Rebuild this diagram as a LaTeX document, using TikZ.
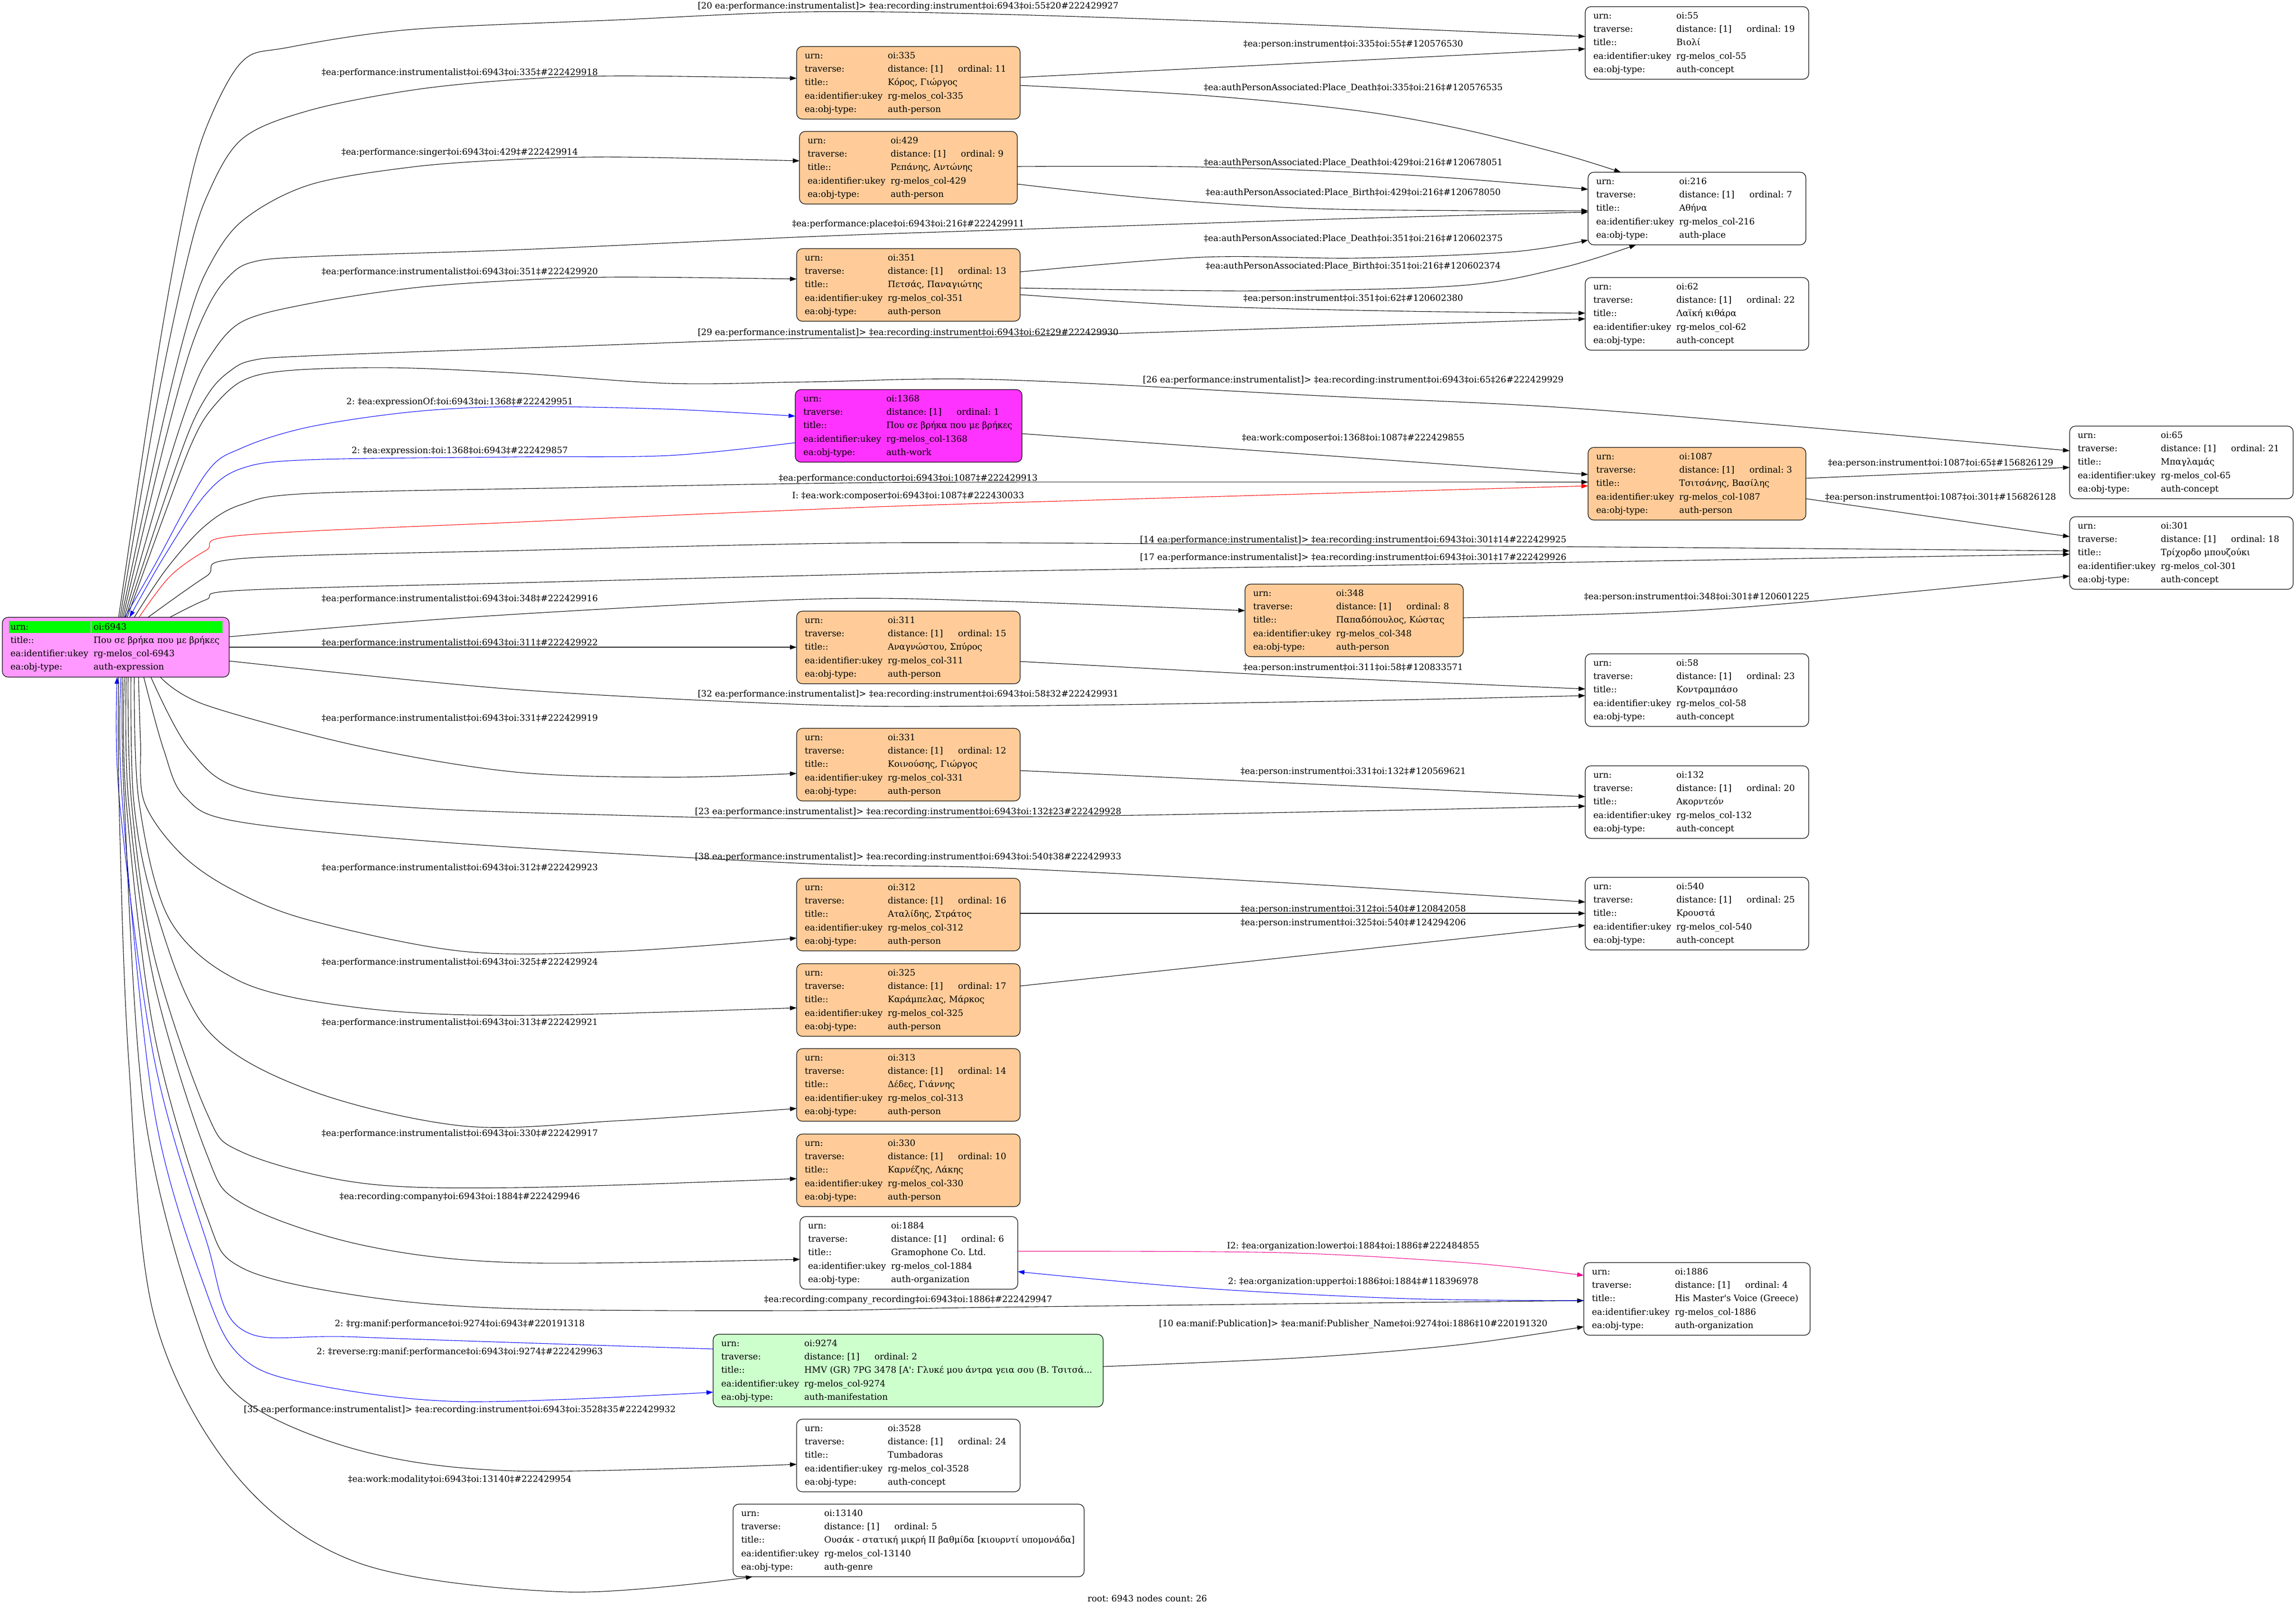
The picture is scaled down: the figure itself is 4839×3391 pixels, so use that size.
\documentclass[tikz,border=0pt]{standalone}
\usepackage{fontspec}
\setmainfont{DejaVu Serif}
\usetikzlibrary{arrows.meta}
\definecolor{peach}{HTML}{FFCC99}
\definecolor{rootpink}{HTML}{FF99FF}
\definecolor{magnode}{HTML}{FF33FF}
\definecolor{mint}{HTML}{CCFFCC}
\definecolor{hlgreen}{HTML}{00FF00}
\tikzset{
 recbox/.style={draw=black, line width=1.2pt, rounded corners=12pt, inner sep=0pt, outer sep=0pt},
 rt/.style={anchor=base west, inner sep=0pt, outer sep=0pt},
 lbl/.style={anchor=base, inner sep=0pt, outer sep=0pt},
 edge/.style={draw=black, line width=1.1pt, -{Triangle[length=14pt,width=9.5pt]}},
 sm/.style={smooth, tension=0.55},
}
\newcommand\recnode[9]{%
 \node[recbox,fill=#5,minimum width={#4-#2},minimum height=153,anchor=north west] (#1) at (#2,#3) {};
 \node[rt] (#1-k1) at ({#2+17},{#3+25.5}) {urn:};
 \node[rt] (#1-v1) at ({#2+192},{#3+25.5}) {oi:#6};
 \node[rt] (#1-k2) at ({#2+17},{#3+53.7}) {traverse:};
 \node[rt] (#1-v2) at ({#2+192},{#3+53.7}) {distance: [1]};
 \node[rt] (#1-w2) at ({#2+340},{#3+53.7}) {ordinal: #7};
 \node[rt] (#1-k3) at ({#2+17},{#3+81.9}) {title::};
 \node[rt] (#1-v3) at ({#2+192},{#3+81.9}) {#8};
 \node[rt] (#1-k4) at ({#2+17},{#3+110.1}) {ea:identifier:ukey};
 \node[rt] (#1-v4) at ({#2+192},{#3+110.1}) {rg-melos\_col-#6};
 \node[rt] (#1-k5) at ({#2+17},{#3+138.3}) {ea:obj-type:};
 \node[rt] (#1-v5) at ({#2+192},{#3+138.3}) {#9};
}
\begin{document}
\frenchspacing
\begin{tikzpicture}[x=1pt,y=-1pt,font=\fontsize{18.4}{22}\selectfont]
\useasboundingbox (0,0) rectangle (4839,3391);

% ---------- root ----------
\node[recbox,fill=rootpink,minimum width=478,minimum height=126,anchor=north west] (root) at (5,1301) {};
\fill[hlgreen] (19,1309) rectangle (191,1334);
\fill[hlgreen] (193,1309) rectangle (469,1334);
\node[rt] (root-k1) at (22,1327) {urn:};
\node[rt] (root-v1) at (197,1327) {oi:6943};
\node[rt] (root-k2) at (22,1355) {title::};
\node[rt] (root-v2) at (197,1355) {Που σε βρήκα που με βρήκες};
\node[rt] (root-k3) at (22,1383) {ea:identifier:ukey};
\node[rt] (root-v3) at (197,1383) {rg-melos\_col-6943};
\node[rt] (root-k4) at (22,1411) {ea:obj-type:};
\node[rt] (root-v4) at (197,1411) {auth-expression};

% ---------- records ----------
\recnode{n335}{1679}{98}{2150}{peach}{335}{11}{Κόρος, Γιώργος}{auth-person}
\recnode{n429}{1685}{277}{2144}{peach}{429}{9}{Ρεπάνης, Αντώνης}{auth-person}
\recnode{n55}{3341}{14}{3812}{white}{55}{19}{Βιολί}{auth-concept}
\recnode{n216}{3347}{363}{3806}{white}{216}{7}{Αθήνα}{auth-place}
\recnode{n351}{1679}{524}{2150}{peach}{351}{13}{Πετσάς, Παναγιώτης}{auth-person}
\recnode{n62}{3341}{585}{3812}{white}{62}{22}{Λαϊκή κιθάρα}{auth-concept}
\recnode{n1368}{1676}{821}{2154}{magnode}{1368}{1}{Που σε βρήκα που με βρήκες}{auth-work}
\recnode{n65}{4362}{898}{4833}{white}{65}{21}{Μπαγλαμάς}{auth-concept}
\recnode{n1087}{3347}{943}{3806}{peach}{1087}{3}{Τσιτσάνης, Βασίλης}{auth-person}
\recnode{n301}{4362}{1089}{4833}{white}{301}{18}{Τρίχορδο μπουζούκι}{auth-concept}
\recnode{n348}{2624}{1231}{3084}{peach}{348}{8}{Παπαδόπουλος, Κώστας}{auth-person}
\recnode{n311}{1679}{1288}{2150}{peach}{311}{15}{Αναγνώστου, Σπύρος}{auth-person}
\recnode{n58}{3341}{1378}{3812}{white}{58}{23}{Κοντραμπάσο}{auth-concept}
\recnode{n331}{1679}{1535}{2150}{peach}{331}{12}{Κοινούσης, Γιώργος}{auth-person}
\recnode{n132}{3341}{1614}{3812}{white}{132}{20}{Ακορντεόν}{auth-concept}
\recnode{n312}{1679}{1851}{2150}{peach}{312}{16}{Αταλίδης, Στράτος}{auth-person}
\recnode{n540}{3341}{1849}{3812}{white}{540}{25}{Κρουστά}{auth-concept}
\recnode{n325}{1679}{2031}{2150}{peach}{325}{17}{Καράμπελας, Μάρκος}{auth-person}
\recnode{n313}{1679}{2210}{2150}{peach}{313}{14}{Δέδες, Γιάννης}{auth-person}
\recnode{n330}{1679}{2390}{2150}{peach}{330}{10}{Καρνέζης, Λάκης}{auth-person}
\recnode{n1884}{1686}{2564}{2145}{white}{1884}{6}{Gramophone Co. Ltd.}{auth-organization}
\recnode{n1886}{3338}{2661}{3815}{white}{1886}{4}{His Master\textquotesingle s Voice (Greece)}{auth-organization}
\recnode{n9274}{1503}{2812}{2325}{mint}{9274}{2}{HMV (GR) 7PG 3478 [Α\textquotesingle: Γλυκέ μου άντρα γεια σου (Β. Τσιτσά...}{auth-manifestation}
\recnode{n3528}{1679}{2991}{2150}{white}{3528}{24}{Tumbadoras}{auth-concept}
\recnode{n13140}{1545}{3170}{2285}{white}{13140}{5}{Ουσάκ - στατική μικρή II βαθμίδα [κιουρντί υπομονάδα]}{auth-genre}

% ---------- edges from root, upward ----------
\draw[edge] plot[sm] coordinates {(root.north -| 250,0) (331,759) (390,434) (434,271) (510,130) (607,100) (868,62) (1300,42) (1700,25) (2100,30) (2700,50) (n55.west |- 0,77)};
\draw[edge] plot[sm] coordinates {(root.north -| 253,0) (334,834) (393,555) (436,414) (510,293) (651,233) (868,190) (1085,168) (1302,160) (n335.west |- 0,165)};
\draw[edge] plot[sm] coordinates {(root.north -| 256,0) (338,914) (395,683) (438,566) (510,466) (651,390) (868,352) (1085,336) (1302,331) (n429.west |- 0,339)};
\draw[edge] plot[sm] coordinates {(root.north -| 259,0) (341,956) (397,750) (439,645) (480,585) (530,553) (650,541) (1100,526) (1700,499) (2100,485) (2800,462) (n216.west |- 0,447)};
\draw[edge] plot[sm] coordinates {(root.north -| 262,0) (344,1013) (400,840) (441,753) (510,678) (651,640) (868,607) (1085,591) (1302,584) (n351.west |- 0,588)};
\draw[edge] plot[sm] coordinates {(root.north -| 265,0) (348,1050) (402,900) (443,824) (482,784) (530,760) (651,750) (1200,730) (1700,713) (2100,710) (2700,692) (n62.west |- 0,672)};
\draw[edge] plot[sm] coordinates {(root.north -| 268,0) (352,1070) (405,932) (445,863) (510,803) (607,781) (824,775) (1085,786) (1410,808) (1700,805) (2100,800) (2800,835) (3280,858) (3800,900) (n65.west |- 0,950)};
\draw[edge,blue] plot[sm] coordinates {(root.north -| 263,0) (325,1193) (434,998) (510,944) (651,900) (868,868) (1085,857) (1400,862) (n1368.west |- 0,877)};
\draw[edge,blue] plot[sm] coordinates {(n1368.west |- 0,933) (1410,960) (1085,963) (651,969) (510,987) (434,1041) (347,1171) (root.north -| 273,0)};
\draw[edge] plot[sm] coordinates {(root.north -| 283,0) (350,1200) (430,1110) (510,1063) (651,1040) (1200,1028) (1700,1019) (2100,1016) (n1087.west |- 0,1016)};
\draw[edge,red] plot[sm] coordinates {(root.north -| 293,0) (358,1215) (434,1160) (510,1128) (1100,1100) (1700,1074) (2100,1060) (n1087.west |- 0,1024)};
\draw[edge] plot[sm] coordinates {(root.north -| 312,0) (434,1215) (510,1177) (1100,1160) (1700,1146) (2100,1144) (3000,1150) (3800,1156) (n301.west |- 0,1161)};
\draw[edge] plot[sm] coordinates {(root.north -| 358,0) (434,1264) (510,1244) (1100,1228) (1700,1213) (2100,1204) (3000,1190) (3800,1177) (n301.west |- 0,1168)};
% ---------- edges from root, right side ----------
\draw[edge] plot[sm] coordinates {(root.east |- 0,1342) (1000,1300) (1700,1263) (2100,1267) (n348.west |- 0,1287)};
\draw[edge] (root.east |- 0,1364) -- (n311.west |- 0,1364);
\draw[edge] plot[sm] coordinates {(root.east |- 0,1393) (1085,1453) (1700,1485) (2100,1488) (2800,1478) (n58.west |- 0,1466)};
% ---------- edges from root, downward ----------
\draw[edge] plot[sm] coordinates {(root.south -| 338,0) (434,1486) (759,1573) (1085,1627) (1410,1638) (n331.west |- 0,1630)};
\draw[edge] plot[sm] coordinates {(root.south -| 318,0) (400,1580) (520,1665) (868,1702) (1300,1718) (1700,1725) (2400,1718) (n132.west |- 0,1699)};
\draw[edge] plot[sm] coordinates {(root.south -| 303,0) (345,1580) (390,1680) (510,1733) (1000,1780) (1700,1820) (2100,1829) (2700,1860) (n540.west |- 0,1901)};
\draw[edge] plot[sm] coordinates {(root.south -| 292,0) (296,1560) (304,1690) (380,1798) (488,1874) (651,1939) (976,2005) (1302,2005) (n312.west |- 0,1977)};
\draw[edge] plot[sm] coordinates {(root.south -| 283,0) (293,1690) (358,1939) (510,2070) (759,2124) (1085,2140) (n325.west |- 0,2124)};
\draw[edge] plot[sm] coordinates {(root.south -| 276,0) (282,1690) (325,1907) (434,2167) (651,2297) (976,2373) (1302,2362) (n313.west |- 0,2336)};
\draw[edge] plot[sm] coordinates {(root.south -| 270,0) (277,1690) (325,2015) (434,2341) (510,2428) (759,2493) (1085,2503) (n330.west |- 0,2484)};
\draw[edge] plot[sm] coordinates {(root.south -| 266,0) (271,1690) (325,2070) (434,2428) (510,2536) (759,2623) (1085,2661) (n1884.west |- 0,2654)};
\draw[edge] plot[sm] coordinates {(root.south -| 262,0) (266,1690) (325,2178) (434,2558) (510,2672) (759,2731) (1085,2758) (1700,2762) (2100,2755) (n1886.west |- 0,2741)};
\draw[edge,blue] plot[sm] coordinates {(n9274.west |- 0,2843) (759,2818) (510,2802) (434,2612) (325,2232) (252,1690) (root.south -| 247,0)};
\draw[edge,blue] plot[sm] coordinates {(root.south -| 255,0) (258,1690) (325,2341) (434,2720) (510,2861) (651,2916) (976,2954) (n9274.west |- 0,2934)};
\draw[edge] plot[sm] coordinates {(root.south -| 258,0) (262,1690) (304,2341) (412,2775) (510,2948) (759,3057) (1085,3100) (n3528.west |- 0,3086)};
\draw[edge] plot[sm] coordinates {(root.south -| 250,0) (251,1690) (271,2232) (325,2775) (499,3111) (759,3295) (1193,3355) (n13140.south -| 1586,0)};

% ---------- middle edges ----------
\draw[edge] (n335.east |- 0,163) -- (n55.west |- 0,103);
\draw[edge] plot[sm] coordinates {(n335.east |- 0,180) (2534,201) (2859,233) (3076,271) (3293,325) (n216.north -| 3416,0)};
\draw[edge] plot[sm] coordinates {(n429.east |- 0,351) (2534,352) (2968,369) (n216.west |- 0,399)};
\draw[edge] plot[sm] coordinates {(n429.east |- 0,388) (2425,418) (2751,439) (3100,444) (n216.west |- 0,444)};
\draw[edge] plot[sm] coordinates {(n351.east |- 0,573) (2534,542) (2859,544) (3185,531) (n216.west |- 0,506)};
\draw[edge] plot[sm] coordinates {(n351.east |- 0,607) (2642,613) (3076,602) (3293,564) (n216.south -| 3448,0)};
\draw[edge] plot[sm] coordinates {(n351.east |- 0,621) (2534,645) (2968,656) (n62.west |- 0,660)};
\draw[edge] (n1368.east |- 0,914) -- (n1087.west |- 0,1000);
\draw[edge] plot[sm] coordinates {(n348.east |- 0,1302) (3500,1290) (3800,1269) (n301.west |- 0,1214)};
\draw[edge] plot[sm] coordinates {(n311.east |- 0,1394) (2751,1426) (n58.west |- 0,1452)};
\draw[edge] (n331.east |- 0,1624) -- (n132.west |- 0,1679);
\draw[edge] (n312.east |- 0,1925) -- (n540.west |- 0,1925);
\draw[edge] (n325.east |- 0,2078) -- (n540.west |- 0,1950);
\draw[edge,magenta] plot[sm] coordinates {(n1884.east |- 0,2637) (2700,2640) (3100,2662) (n1886.west |- 0,2688)};
\draw[edge,blue] plot[sm] coordinates {(n1886.west |- 0,2741) (2968,2737) (2534,2715) (n1884.east |- 0,2680)};
\draw[edge] plot[sm] coordinates {(n9274.east |- 0,2880) (2751,2861) (3076,2834) (n1886.west |- 0,2796)};
\draw[edge] (n1087.east |- 0,1008) -- (n65.west |- 0,985);
\draw[edge] (n1087.east |- 0,1051) -- (n301.west |- 0,1131);

% ---------- labels, left column ----------
\node[lbl] (lb1) at (969,158) {‡ea:performance:instrumentalist‡oi:6943‡oi:335‡\#222429918};
\node[lbl] (lb2) at (969,326) {‡ea:performance:singer‡oi:6943‡oi:429‡\#222429914};
\node[lbl] (lb3) at (969,578) {‡ea:performance:instrumentalist‡oi:6943‡oi:351‡\#222429920};
\node[lbl] (lb4) at (969,852) {2: ‡ea:expressionOf:‡oi:6943‡oi:1368‡\#222429951};
\node[lbl] (lb5) at (969,955) {2: ‡ea:expression:‡oi:1368‡oi:6943‡\#222429857};
\node[lbl] (lb6) at (969,1267) {‡ea:performance:instrumentalist‡oi:6943‡oi:348‡\#222429916};
\node[lbl] (lb7) at (969,1360) {‡ea:performance:instrumentalist‡oi:6943‡oi:311‡\#222429922};
\node[lbl] (lb8) at (969,1519) {‡ea:performance:instrumentalist‡oi:6943‡oi:331‡\#222429919};
\node[lbl] (lb9) at (969,1834) {‡ea:performance:instrumentalist‡oi:6943‡oi:312‡\#222429923};
\node[lbl] (lb10) at (969,2033) {‡ea:performance:instrumentalist‡oi:6943‡oi:325‡\#222429924};
\node[lbl] (lb11) at (969,2160) {‡ea:performance:instrumentalist‡oi:6943‡oi:313‡\#222429921};
\node[lbl] (lb12) at (969,2394) {‡ea:performance:instrumentalist‡oi:6943‡oi:330‡\#222429917};
\node[lbl] (lb13) at (969,2527) {‡ea:recording:company‡oi:6943‡oi:1884‡\#222429946};
\node[lbl] (lb14) at (969,2795) {2: ‡rg:manif:performance‡oi:9274‡oi:6943‡\#220191318};
\node[lbl] (lb15) at (969,2854) {2: ‡reverse:rg:manif:performance‡oi:6943‡oi:9274‡\#222429963};
\node[lbl] (lb16) at (969,2976) {[35 ea:performance:instrumentalist]> ‡ea:recording:instrument‡oi:6943‡oi:3528‡35\#222429932};
\node[lbl] (lb17) at (969,3123) {‡ea:work:modality‡oi:6943‡oi:13140‡\#222429954};
% ---------- labels, centred on 1914 ----------
\node[lbl] (lc1) at (1914,19) {[20 ea:performance:instrumentalist]> ‡ea:recording:instrument‡oi:6943‡oi:55‡20\#222429927};
\node[lbl] (lc2) at (1914,477) {‡ea:performance:place‡oi:6943‡oi:216‡\#222429911};
\node[lbl] (lc3) at (1914,706) {[29 ea:performance:instrumentalist]> ‡ea:recording:instrument‡oi:6943‡oi:62‡29\#222429930};
\node[lbl] (lc4) at (1914,1013) {‡ea:performance:conductor‡oi:6943‡oi:1087‡\#222429913};
\node[lbl] (lc5) at (1914,1050) {I: ‡ea:work:composer‡oi:6943‡oi:1087‡\#222430033};
\node[lbl] (lc6) at (1914,1468) {[32 ea:performance:instrumentalist]> ‡ea:recording:instrument‡oi:6943‡oi:58‡32\#222429931};
\node[lbl] (lc7) at (1914,1716) {[23 ea:performance:instrumentalist]> ‡ea:recording:instrument‡oi:6943‡oi:132‡23\#222429928};
\node[lbl] (lc8) at (1914,1811) {[38 ea:performance:instrumentalist]> ‡ea:recording:instrument‡oi:6943‡oi:540‡38\#222429933};
\node[lbl] (lc9) at (1914,2744) {‡ea:recording:company\_recording‡oi:6943‡oi:1886‡\#222429947};
% ---------- labels, middle ----------
\node[lbl] (lm1) at (2852,99) {‡ea:person:instrument‡oi:335‡oi:55‡\#120576530};
\node[lbl] (lm2) at (2852,190) {‡ea:authPersonAssociated:Place\_Death‡oi:335‡oi:216‡\#120576535};
\node[lbl] (lm3) at (2852,348) {‡ea:authPersonAssociated:Place\_Death‡oi:429‡oi:216‡\#120678051};
\node[lbl] (lm4) at (2852,411) {‡ea:authPersonAssociated:Place\_Birth‡oi:429‡oi:216‡\#120678050};
\node[lbl] (lm5) at (2852,508) {‡ea:authPersonAssociated:Place\_Death‡oi:351‡oi:216‡\#120602375};
\node[lbl] (lm6) at (2852,566) {‡ea:authPersonAssociated:Place\_Birth‡oi:351‡oi:216‡\#120602374};
\node[lbl] (lm7) at (2852,634) {‡ea:person:instrument‡oi:351‡oi:62‡\#120602380};
\node[lbl] (lm8) at (2852,806) {[26 ea:performance:instrumentalist]> ‡ea:recording:instrument‡oi:6943‡oi:65‡26\#222429929};
\node[lbl] (lm9) at (2852,928) {‡ea:work:composer‡oi:1368‡oi:1087‡\#222429855};
\node[lbl] (lm10) at (2852,1143) {[14 ea:performance:instrumentalist]> ‡ea:recording:instrument‡oi:6943‡oi:301‡14\#222429925};
\node[lbl] (lm11) at (2852,1180) {[17 ea:performance:instrumentalist]> ‡ea:recording:instrument‡oi:6943‡oi:301‡17\#222429926};
\node[lbl] (lm12) at (2852,1412) {‡ea:person:instrument‡oi:311‡oi:58‡\#120833571};
\node[lbl] (lm13) at (2852,1631) {‡ea:person:instrument‡oi:331‡oi:132‡\#120569621};
\node[lbl] (lm14) at (2852,1921) {‡ea:person:instrument‡oi:312‡oi:540‡\#120842058};
\node[lbl] (lm15) at (2852,1950) {‡ea:person:instrument‡oi:325‡oi:540‡\#124294206};
\node[lbl] (lm16) at (2852,2631) {I2: ‡ea:organization:lower‡oi:1884‡oi:1886‡\#222484855};
\node[lbl] (lm17) at (2852,2706) {2: ‡ea:organization:upper‡oi:1886‡oi:1884‡\#118396978};
\node[lbl] (lm18) at (2852,2795) {[10 ea:manif:Publication]> ‡ea:manif:Publisher\_Name‡oi:9274‡oi:1886‡10\#220191320};
% ---------- labels, right ----------
\node[lbl] (lr1) at (4090,981) {‡ea:person:instrument‡oi:1087‡oi:65‡\#156826129};
\node[lbl] (lr2) at (4090,1053) {‡ea:person:instrument‡oi:1087‡oi:301‡\#156826128};
\node[lbl] (lr3) at (3576,1263) {‡ea:person:instrument‡oi:348‡oi:301‡\#120601225};
% ---------- caption ----------
\node[lbl] (cap) at (2418,3375) {root: 6943 nodes count: 26};
\end{tikzpicture}
\end{document}
